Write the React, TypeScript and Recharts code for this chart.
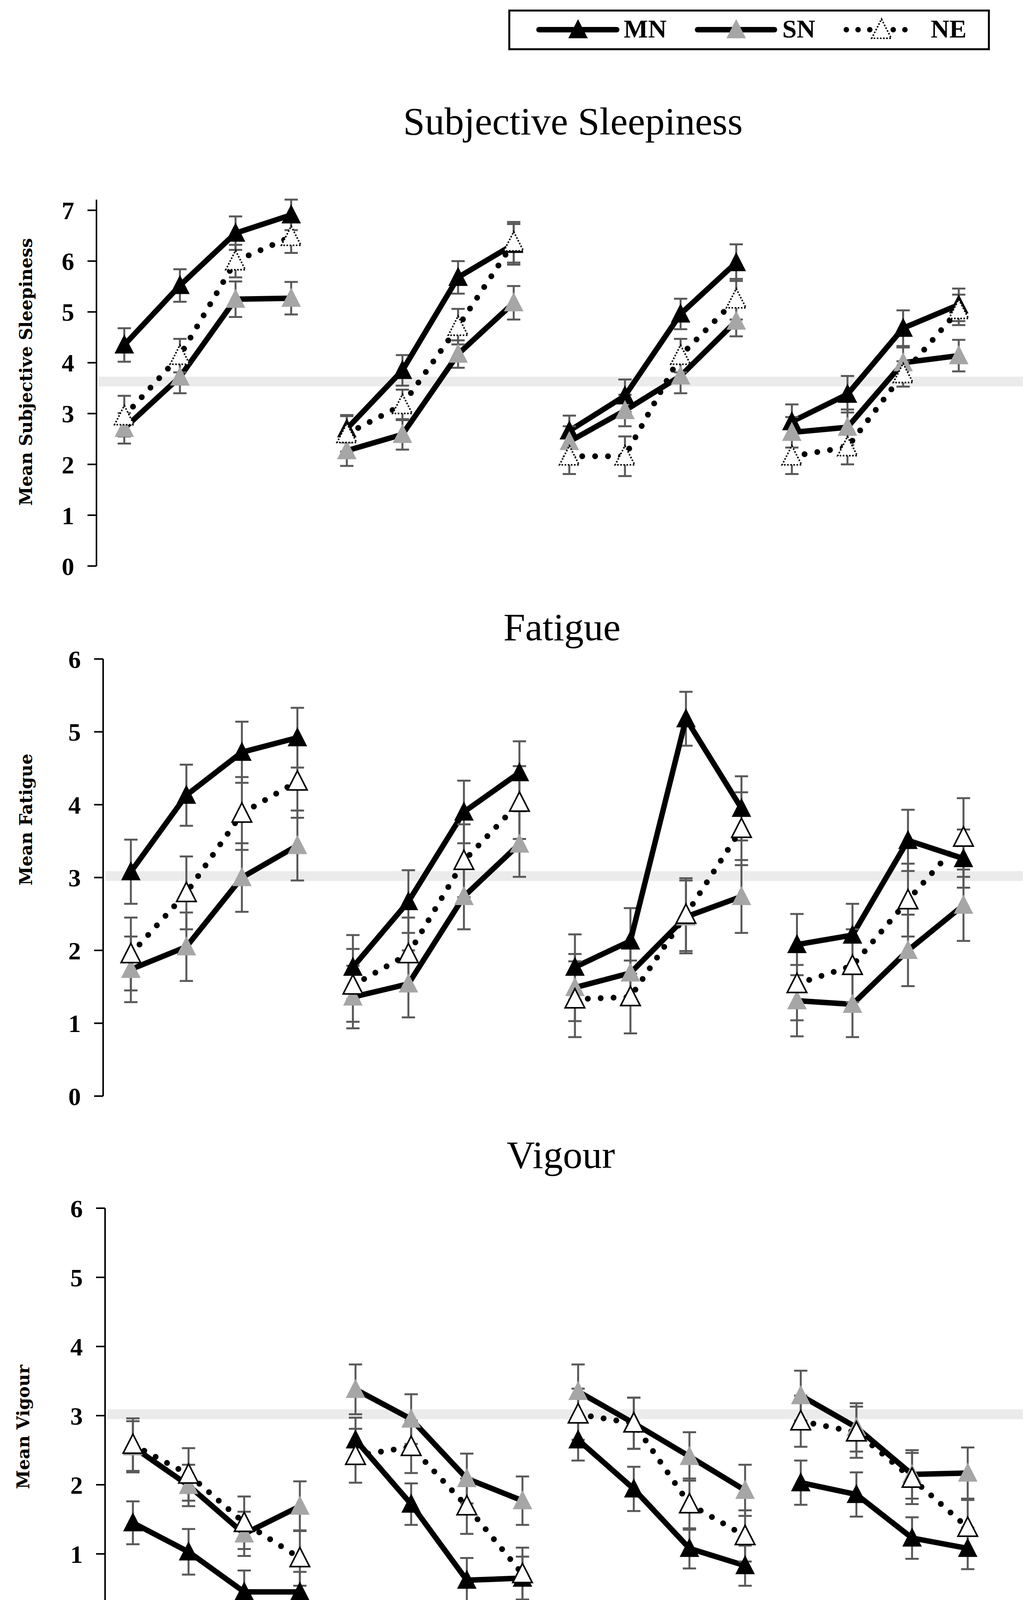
import { LineChart, Line, XAxis, YAxis, ErrorBar, ReferenceLine } from "recharts"

const W = 2627
const H = 4708

const nights = ["NS1", "NS2", "NS3", "NS4"]
const slots = ["21:00", "23:30", "2:30", "5:00"]
const categories = nights.flatMap((n) => slots.map((s) => `${n} ${s}`))

// Subjective sleepiness (means, then SE)
const sleepMN = [4.35, 5.52, 6.55, 6.91, 2.7, 3.85, 5.68, 6.33, 2.66, 3.35, 4.96, 5.97, 2.84, 3.38, 4.68, 5.14]
const sleepSN = [2.71, 3.72, 5.25, 5.27, 2.27, 2.59, 4.17, 5.18, 2.45, 3.06, 3.74, 4.82, 2.63, 2.73, 4.0, 4.14]
const sleepNE = [2.95, 4.14, 6.0, 6.48, 2.6, 3.17, 4.71, 6.37, 2.16, 2.16, 4.14, 5.25, 2.16, 2.34, 3.78, 5.04]
const sleepMNErr = [0.33, 0.32, 0.33, 0.3, 0.27, 0.3, 0.32, 0.4, 0.3, 0.32, 0.3, 0.36, 0.34, 0.36, 0.35, 0.32]
const sleepSNErr = [0.3, 0.32, 0.35, 0.32, 0.3, 0.3, 0.27, 0.33, 0.3, 0.31, 0.34, 0.3, 0.3, 0.35, 0.3, 0.31]
const sleepNEErr = [0.4, 0.33, 0.32, 0.32, 0.35, 0.3, 0.35, 0.4, 0.35, 0.39, 0.33, 0.4, 0.35, 0.34, 0.25, 0.3]

// Fatigue
const fatMN = [3.08, 4.13, 4.72, 4.92, 1.77, 2.67, 3.9, 4.44, 1.77, 2.13, 5.18, 3.95, 2.08, 2.21, 3.51, 3.26]
const fatSN = [1.74, 2.05, 3.0, 3.44, 1.36, 1.54, 2.74, 3.46, 1.49, 1.69, 2.46, 2.74, 1.31, 1.26, 2.0, 2.62]
const fatNE = [1.95, 2.79, 3.88, 4.32, 1.52, 1.95, 3.23, 4.03, 1.33, 1.36, 2.49, 3.67, 1.54, 1.79, 2.69, 3.55]
const fatMNErr = [0.44, 0.42, 0.42, 0.41, 0.44, 0.43, 0.43, 0.43, 0.45, 0.45, 0.37, 0.44, 0.42, 0.43, 0.42, 0.4]
const fatSNErr = [0.45, 0.47, 0.47, 0.48, 0.43, 0.46, 0.45, 0.45, 0.46, 0.4, 0.5, 0.5, 0.49, 0.45, 0.49, 0.49]
const fatNEErr = [0.5, 0.5, 0.5, 0.5, 0.5, 0.5, 0.5, 0.5, 0.52, 0.5, 0.5, 0.5, 0.5, 0.5, 0.5, 0.54]

// Vigour
const vigMN = [1.45, 1.03, 0.45, 0.45, 2.65, 1.72, 0.62, 0.65, 2.65, 1.94, 1.08, 0.83, 2.03, 1.86, 1.23, 1.08]
const vigSN = [2.55, 1.99, 1.29, 1.69, 3.38, 2.95, 2.09, 1.77, 3.35, 2.89, 2.41, 1.92, 3.29, 2.83, 2.15, 2.17]
const vigNE = [2.58, 2.15, 1.45, 0.94, 2.42, 2.55, 1.69, 0.71, 3.02, 2.89, 1.72, 1.26, 2.92, 2.76, 2.09, 1.38]
const vigMNErr = [0.31, 0.33, 0.31, 0.29, 0.32, 0.3, 0.32, 0.31, 0.3, 0.32, 0.29, 0.29, 0.32, 0.32, 0.3, 0.3]
const vigSNErr = [0.37, 0.3, 0.32, 0.36, 0.36, 0.36, 0.36, 0.35, 0.39, 0.37, 0.35, 0.37, 0.36, 0.35, 0.35, 0.37]
const vigNEErr = [0.38, 0.38, 0.38, 0.4, 0.39, 0.38, 0.4, 0.38, 0.37, 0.37, 0.37, 0.37, 0.37, 0.37, 0.37, 0.4]

const SERIES = ["mn", "sn", "ne"] as const
type SeriesKey = (typeof SERIES)[number]

function buildRows(vals: Record<SeriesKey, number[]>, errs: Record<SeriesKey, number[]>) {
  return categories.map((id, i) => {
    const g = Math.floor(i / 4)
    const row: Record<string, string | number> = { id }
    for (const s of SERIES) {
      row[`${s}${g}`] = vals[s][i]
      row[`${s}Err${g}`] = errs[s][i]
    }
    return row
  })
}

const sleepRows = buildRows(
  { mn: sleepMN, sn: sleepSN, ne: sleepNE },
  { mn: sleepMNErr, sn: sleepSNErr, ne: sleepNEErr }
)
const fatRows = buildRows({ mn: fatMN, sn: fatSN, ne: fatNE }, { mn: fatMNErr, sn: fatSNErr, ne: fatNEErr })
const vigRows = buildRows({ mn: vigMN, sn: vigSN, ne: vigNE }, { mn: vigMNErr, sn: vigSNErr, ne: vigNEErr })

const SN_GREY = "#a6a6a6"
const ERR_GREY = "#595959"
const SERIF = "'Liberation Serif', 'Times New Roman', serif"

function Tri({ cx, cy, series, dashed }: { cx: number; cy: number; series: SeriesKey; dashed?: boolean }) {
  const d = `M${cx},${cy - 27}L${cx + 25},${cy + 22}L${cx - 25},${cy + 22}Z`
  if (series === "ne") {
    return <path d={d} fill="#fff" stroke="#000" strokeWidth={4} strokeDasharray={dashed ? "4 4" : undefined} />
  }
  return <path d={d} fill={series === "mn" ? "#000" : SN_GREY} stroke="none" />
}

const makeDot = (series: SeriesKey, dashed: boolean) => (props: any) => {
  const { cx, cy, index, value } = props
  if (cx == null || cy == null || value == null) return <g key={`e-${index}`} />
  return (
    <g key={`d-${index}`}>
      <Tri cx={cx} cy={cy} series={series} dashed={dashed} />
    </g>
  )
}

interface PanelProps {
  rows: Record<string, string | number>[]
  top: number
  height: number
  plotTop: number
  plotBottom: number
  plotLeft: number
  plotRight: number
  max: number
  refValue: number
  dashedNE?: boolean
  showAxis?: boolean
}

const AXIS_H = 320

function Panel({ rows, top, height, plotTop, plotBottom, plotLeft, plotRight, max, refValue, dashedNE, showAxis }: PanelProps) {
  const plotW = plotRight - plotLeft
  const half = plotW / 32
  const ticks = Array.from({ length: max + 1 }, (_, i) => i)
  const xh = showAxis ? AXIS_H : 0
  const margin = {
    top: plotTop - top,
    right: W - plotRight,
    bottom: top + height - plotBottom - xh,
    left: 0,
  }

  // category box: time label per slot, night label per group of four
  const renderTick = (props: any) => {
    const { x, y, index } = props
    const left = x - half
    const groupStart = index % 4 === 0
    return (
      <g key={`t-${index}`}>
        <line x1={left} x2={left} y1={y} y2={y + (groupStart ? 314 : 197)} stroke={index === 0 ? "#000" : "#404040"} strokeWidth={5} />
        {index === 15 && <line x1={x + half} x2={x + half} y1={y} y2={y + 314} stroke="#404040" strokeWidth={5} />}
        <text
          transform={`translate(${x},${y + 41}) rotate(-90)`}
          textAnchor="end"
          dy="0.36em"
          fontFamily="'Liberation Sans', Arial, sans-serif"
          fontWeight={700}
          fontSize={58}
          fill="#000"
        >
          {slots[index % 4]}
        </text>
        {index % 4 === 1 && (
          <text x={x + half} y={y + 295} textAnchor="middle" fontFamily={SERIF} fontWeight={700} fontSize={66} fill="#000">
            {nights[Math.floor(index / 4)]}
          </text>
        )}
      </g>
    )
  }

  return (
    <div style={{ position: "absolute", left: 0, top }}>
      <LineChart width={W} height={height} data={rows} margin={margin}>
        <ReferenceLine
          y={refValue}
          ifOverflow="visible"
          shape={(p: any) => <line x1={p.x1 + 6} x2={W} y1={p.y1} y2={p.y1} stroke="#ebebeb" strokeWidth={25} />}
        />
        <XAxis
          dataKey="id"
          hide={!showAxis}
          interval={0}
          padding={{ left: half, right: half }}
          height={xh}
          tickSize={0}
          tickMargin={0}
          tickLine={false}
          axisLine={{ stroke: "#000", strokeWidth: 5 }}
          tick={showAxis ? renderTick : false}
        />
        <YAxis
          width={plotLeft}
          domain={[0, () => max]}
          ticks={ticks}
          interval={0}
          tickSize={23}
          tickMargin={34}
          axisLine={{ stroke: "#000", strokeWidth: 4 }}
          tickLine={{ stroke: "#000", strokeWidth: 4 }}
          tick={{ fontSize: 64, fontFamily: SERIF, fontWeight: 700, fill: "#000" }}
        />
        {SERIES.flatMap((s) =>
          [0, 1, 2, 3].map((g) => (
            <Line
              key={`${s}${g}`}
              type="linear"
              dataKey={`${s}${g}`}
              stroke="#000"
              strokeWidth={s === "ne" ? 15 : 14}
              strokeDasharray={s === "ne" ? "0 33" : undefined}
              strokeLinecap="round"
              dot={makeDot(s, !!dashedNE)}
              activeDot={false}
              connectNulls={false}
              legendType="none"
              isAnimationActive={false}
            >
              <ErrorBar dataKey={`${s}Err${g}`} width={17} strokeWidth={5} stroke={ERR_GREY} direction="y" isAnimationActive={false} />
            </Line>
          ))
        )}
      </LineChart>
    </div>
  )
}

function LegendBox() {
  const y = 76
  return (
    <g>
      <rect x={1304} y={27} width={1228} height={99} fill="#fff" stroke="#000" strokeWidth={5} />
      <line x1={1380} x2={1579} y1={y} y2={y} stroke="#000" strokeWidth={14} strokeLinecap="round" />
      <Tri cx={1480} cy={y} series="mn" />
      <text x={1597} y={96} fontFamily={SERIF} fontWeight={700} fontSize={66}>MN</text>
      <line x1={1786} x2={1983} y1={y} y2={y} stroke="#000" strokeWidth={14} strokeLinecap="round" />
      <Tri cx={1885} cy={y} series="sn" />
      <text x={2003} y={96} fontFamily={SERIF} fontWeight={700} fontSize={66}>SN</text>
      <line x1={2167} x2={2347} y1={y} y2={y} stroke="#000" strokeWidth={14} strokeDasharray="0 30" strokeLinecap="round" />
      <Tri cx={2257} cy={y} series="ne" dashed />
      <text x={2383} y={96} fontFamily={SERIF} fontWeight={700} fontSize={66}>NE</text>
    </g>
  )
}

const yLabel = (text: string, x: number, y: number) => (
  <text
    transform={`translate(${x},${y}) rotate(-90)`}
    textAnchor="middle"
    dy="0.35em"
    fontFamily="'DejaVu Serif', serif"
    fontWeight={700}
    fontSize={44}
    fill="#000"
  >
    {text}
  </text>
)

export default function App() {
  return (
    <div style={{ position: "relative", margin: -8, width: W, height: H, background: "#fff", overflow: "hidden" }}>
      <svg width={W} height={H} style={{ position: "absolute", left: 0, top: 0 }}>
        <text x={1467} y={344} textAnchor="middle" fontFamily={SERIF} fontSize={100}>Subjective Sleepiness</text>
        <text x={1439} y={1639} textAnchor="middle" fontFamily={SERIF} fontSize={100}>Fatigue</text>
        <text x={1436} y={2990} textAnchor="middle" fontFamily={SERIF} fontSize={100}>Vigour</text>
        {yLabel("Mean Subjective Sleepiness", 67, 952)}
        {yLabel("Mean Fatigue", 67, 2098)}
        {yLabel("Mean Vigour", 60, 3653)}
        <text x={1422} y={4652} textAnchor="middle" fontFamily={SERIF} fontSize={86}>Time of night</text>
      </svg>
      <Panel rows={sleepRows} top={400} height={1100} plotTop={511} plotBottom={1449} plotLeft={247} plotRight={2526} max={7} refValue={3.63} dashedNE />
      <Panel rows={fatRows} top={1650} height={1250} plotTop={1687} plotBottom={2806} plotLeft={264} plotRight={2538} max={6} refValue={3.02} />
      <Panel rows={vigRows} top={3000} height={1708} plotTop={3093} plotBottom={4155} plotLeft={269} plotRight={2549} max={6} refValue={3.02} showAxis />
      <svg width={W} height={200} style={{ position: "absolute", left: 0, top: 0 }}>
        <LegendBox />
      </svg>
    </div>
  )
}
